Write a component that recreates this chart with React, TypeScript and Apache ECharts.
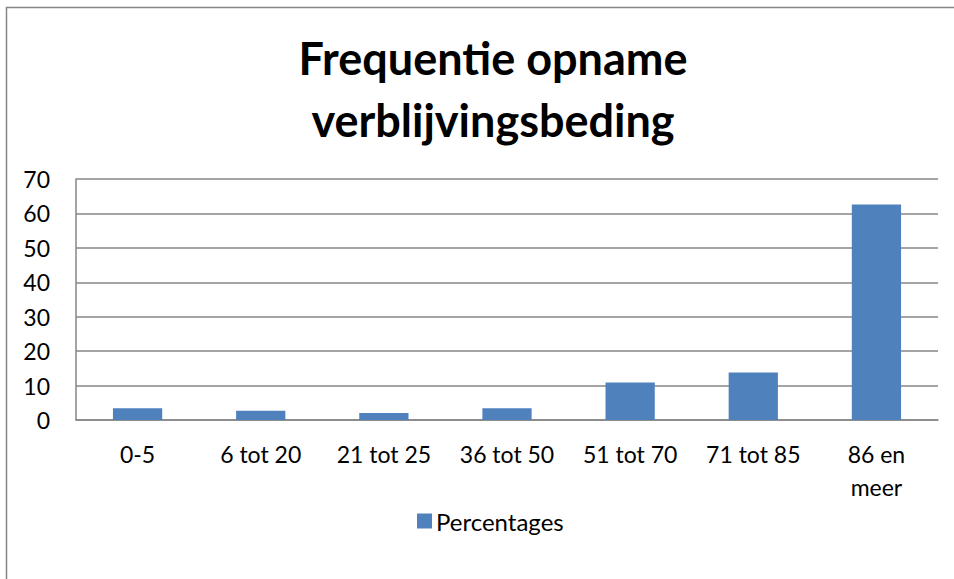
import React, { useEffect, useRef } from "react";
import * as echarts from "echarts";

const categories = ["0-5", "6 tot 20", "21 tot 25", "36 tot 50", "51 tot 70", "71 tot 85", "86 en meer"];
const percentages = [3.4, 2.7, 2.0, 3.4, 10.9, 13.8, 62.6];
const seriesName = "Percentages";
const titleText = "Frequentie opname\nverblijvingsbeding";

export default function App() {
  const ref = useRef<HTMLDivElement>(null);
  useEffect(() => {
    if (!ref.current) return;
    const chart = echarts.init(ref.current, null, { renderer: "svg" });
    const font = "Lato, 'Open Sans', sans-serif";
    chart.setOption({
      animation: false,
      backgroundColor: "#ffffff",
      title: {
        text: titleText,
        left: 488,
        textAlign: "center",
        top: 22,
        textStyle: {
          fontFamily: font,
          fontWeight: "bold",
          fontSize: 45,
          lineHeight: 62,
          color: "#000000",
        },
      },
      graphic: [
        {
          type: "rect",
          shape: { x: 6.5, y: 7.5, width: 1000, height: 700 },
          style: { fill: "none", stroke: "#868686", lineWidth: 1.5 },
          silent: true,
        },
      ],
      legend: {
        data: [seriesName],
        left: 412,
        top: 504,
        icon: "rect",
        itemWidth: 15,
        itemHeight: 15,
        itemGap: 7,
        textStyle: { fontFamily: font, fontSize: 24, color: "#000000", padding: [0, 0, 0, -1] },
      },
      grid: { left: 76, right: 16, top: 179, bottom: 159, containLabel: false },
      xAxis: {
        type: "category",
        data: categories,
        axisLine: { show: true, lineStyle: { color: "#868686", width: 1.5 } },
        axisTick: { show: false },
        axisLabel: {
          fontFamily: font,
          fontSize: 23,
          color: "#000000",
          margin: 17,
          lineHeight: 33,
          interval: 0,
          formatter: (v: string) => (v === "86 en meer" ? "86 en\nmeer" : v),
        },
      },
      yAxis: {
        type: "value",
        min: 0,
        max: 70,
        interval: 10,
        axisLine: { show: true, lineStyle: { color: "#868686", width: 1.5 } },
        axisTick: { show: false },
        splitLine: { show: true, lineStyle: { color: "#868686", width: 1.5 } },
        axisLabel: { fontFamily: font, fontSize: 23, color: "#000000", margin: 26 },
      },
      series: [
        {
          name: seriesName,
          type: "bar",
          data: percentages,
          barWidth: "40%",
          itemStyle: { color: "#4F81BD" },
        },
      ],
    });
    return () => chart.dispose();
  }, []);
  return <div ref={ref} style={{ position: "fixed", left: 0, top: 0, width: 954, height: 579 }} />;
}
